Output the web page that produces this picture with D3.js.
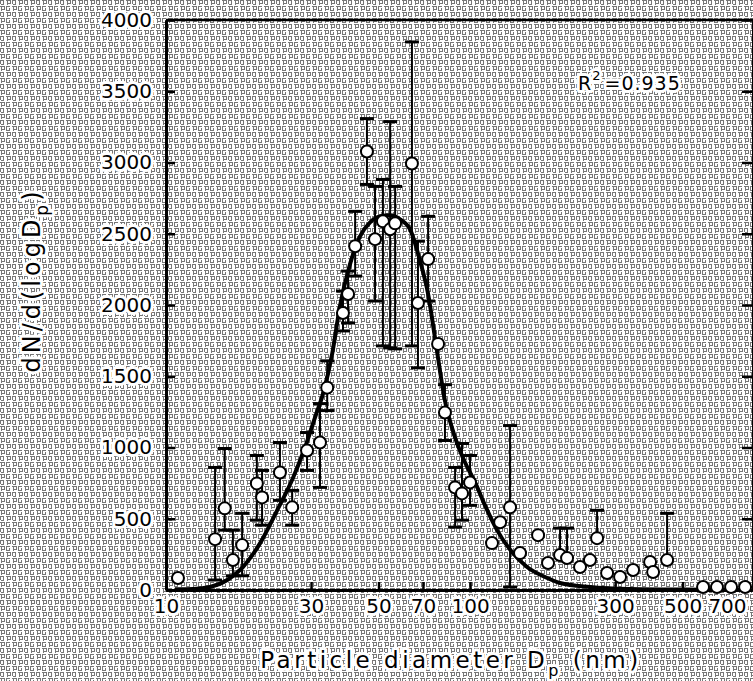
<!DOCTYPE html>
<html>
<head>
<meta charset="utf-8">
<script src="https://cdn.jsdelivr.net/npm/d3@7"></script>
<style>
  body { margin: 0; background: #fff; }
  text { font-family: "DejaVu Sans", sans-serif; fill: #000; }
  .halo { paint-order: stroke; stroke: #fff; stroke-width: 6px; stroke-linejoin: round; }
</style>
</head>
<body>
<svg id="chart" width="753" height="681"></svg>
<script>
//========================== Data ================================

// measured points: diameter (nm), dN/dlogDp, lower and upper end of error bar
const diam  = [10.95, 14.5, 15.6, 16.6, 17.8, 19.9, 20.7, 23.7, 26.0, 29.1, 32.1, 33.9, 38.2, 39.7, 41.9, 45.8, 48.7, 51.7, 54.6, 56.7, 64.4, 67.4, 72.8, 78.5, 82.7, 89.3, 94.1, 100, 118.1, 125.6, 135.4, 146, 167.4, 180.5, 197.7, 208.5, 230, 248, 261.7, 282.3, 311.5, 343.8, 391, 400, 444.8, 584, 649, 722, 803]
const dens  = [84, 357, 573, 210, 315, 748, 650, 825, 580, 979, 1035, 1420, 1944, 2077, 2413, 3077, 2462, 2587, 2531, 2573, 2993, 2014, 2322, 1727, 1245, 720, 678, 755, 329, 475, 580, 259, 385, 189, 245, 224, 161, 210, 364, 119, 91, 140, 196, 126, 210, 21, 21, 21, 21]
const errLo = [84, 70, 420, 100, 100, 490, 455, 629, 455, 839, 720, 1259, 1818, 1874, 2203, 2846, 2028, 1713, 1699, 1692, 1713, 1559, 2028, 1727, 1049, 441, 490, 594, 329, 475, 21, 259, 385, 189, 245, 224, 161, 210, 364, 119, 91, 140, 196, 126, 210, 21, 21, 21, 21]
const errHi = [84, 860, 993, 420, 538, 944, 839, 1035, 699, 1105, 1308, 1608, 2098, 2238, 2657, 3308, 2832, 2881, 3287, 2832, 3846, 2448, 2622, 1727, 1441, 860, 1028, 944, 329, 475, 1154, 259, 385, 189, 434, 434, 161, 210, 559, 119, 91, 140, 196, 126, 538, 21, 21, 21, 21]

// fitted curve
const fitD = [10.7, 12.3, 13.95, 15.9, 17.9, 20.4, 23.2, 26.2, 28.65, 30.9, 32.85, 35.2, 37.35, 40.3, 43.45, 46.9, 50.6, 54.55, 58.9, 63.5, 68.5, 72.8, 76.7, 82.7, 89.3, 96.3, 103.9, 112.0, 122.7, 137.4, 154.0, 176.5, 197.7, 248, 335.7, 571, 834]
const fitN = [5, 7, 21, 70, 161, 329, 559, 790, 1000, 1210, 1378, 1657, 1993, 2287, 2482, 2580, 2622, 2629, 2601, 2531, 2308, 2077, 1769, 1329, 1070, 895, 755, 594, 420, 266, 161, 91, 49, 21, 7, 2, 0]

const xTicks = [10, 30, 50, 70, 100, 300, 500, 700]
const yTicks = [0, 500, 1000, 1500, 2000, 2500, 3000, 3500, 4000]
const r2Text = '0.935'

//========================== Chart ================================

let svg = d3.select('#chart')

// scanned-paper texture (little glyph-like marks on a 12px tile)
let defs = svg.append('defs')
let pat = defs.append('pattern')
  .attr('id', 'scan').attr('width', 12).attr('height', 12)
  .attr('patternUnits', 'userSpaceOnUse')
pat.append('rect').attr('width', 12).attr('height', 12).attr('fill', '#fff')
;[[0, 0, 4, 1], [0, 1, 1, 3], [3, 1, 1, 4], [1, 4, 2, 1],
  [6, 0, 5, 1], [7, 1, 1, 4], [10, 1, 1, 3], [8, 3, 2, 1],
  [0, 6, 5, 1], [1, 7, 1, 4], [4, 7, 1, 3], [2, 9, 2, 1],
  [6, 6, 4, 1], [6, 7, 1, 4], [9, 8, 1, 3], [7, 10, 2, 1]].forEach(r => {
  pat.append('rect').attr('x', r[0]).attr('y', r[1]).attr('width', r[2]).attr('height', r[3]).attr('fill', '#777')
})
svg.append('rect').attr('width', 753).attr('height', 681).attr('fill', 'url(#scan)')

let x = d3.scaleLog().domain([10, 846]).range([166, 752])
let y = d3.scaleLinear().domain([0, 4000]).range([590, 20])

// axes
let yAxis = svg.append('g').attr('transform', 'translate(166,0)')
  .call(d3.axisLeft(y).tickValues(yTicks).tickSize(-9).tickSizeOuter(0).tickPadding(14).tickFormat(d3.format('d')))
let xAxis = svg.append('g').attr('transform', 'translate(0,590)')
  .call(d3.axisBottom(x).tickValues(xTicks).tickSize(-8).tickSizeOuter(0).tickPadding(9).tickFormat(d3.format('d')))
let rAxis = svg.append('g').attr('transform', 'translate(753,0)')
  .call(d3.axisRight(y).tickValues(yTicks).tickSize(-11).tickSizeOuter(0).tickFormat(''))

;[yAxis, xAxis, rAxis].forEach(a => {
  a.select('.domain').attr('stroke', '#000').attr('stroke-width', 3)
  a.selectAll('.tick line').attr('stroke', '#000').attr('stroke-width', 2.5)
  a.selectAll('.tick text').attr('font-size', 20).attr('font-family', '"DejaVu Sans", sans-serif').classed('halo', true)
})

// top frame
svg.append('line').attr('x1', 166).attr('x2', 753).attr('y1', 20).attr('y2', 20)
  .attr('stroke', '#000').attr('stroke-width', 2.5)

// fitted curve
let line = d3.line().x((d, i) => x(fitD[i])).y((d, i) => y(fitN[i])).curve(d3.curveMonotoneX)
svg.append('path').datum(fitD).attr('d', line)
  .attr('fill', 'none').attr('stroke', '#000').attr('stroke-width', 4)

// error bars
let pts = diam.map((d, i) => ({ d: d, v: dens[i], lo: errLo[i], hi: errHi[i] }))
let bars = svg.append('g').attr('stroke', '#000').attr('stroke-width', 2)
pts.filter(p => p.hi > p.v || p.lo < p.v).forEach(p => {
  bars.append('line').attr('x1', x(p.d)).attr('x2', x(p.d)).attr('y1', y(p.lo)).attr('y2', y(p.hi))
  if (p.hi > p.v) bars.append('line').attr('x1', x(p.d) - 7).attr('x2', x(p.d) + 7).attr('y1', y(p.hi)).attr('y2', y(p.hi)).attr('stroke-width', 3)
  if (p.lo < p.v) bars.append('line').attr('x1', x(p.d) - 7).attr('x2', x(p.d) + 7).attr('y1', y(p.lo)).attr('y2', y(p.lo)).attr('stroke-width', 3)
})

// markers
svg.append('g').selectAll('circle').data(pts).join('circle')
  .attr('cx', p => x(p.d)).attr('cy', p => y(p.v)).attr('r', 6)
  .attr('fill', '#fff').attr('stroke', '#000').attr('stroke-width', 2)

// R^2 annotation
let r2 = svg.append('text').attr('x', 578).attr('y', 90).attr('font-size', 19)
  .attr('letter-spacing', 1).classed('halo', true)
r2.append('tspan').text('R')
r2.append('tspan').attr('font-size', 13).attr('dy', -10).text('2')
r2.append('tspan').attr('dy', 10).attr('dx', 3).text('=' + r2Text)

// axis titles
let xt = svg.append('text').attr('x', 451).attr('y', 668).attr('text-anchor', 'middle')
  .attr('font-size', 23).attr('letter-spacing', 3.5).classed('halo', true)
xt.append('tspan').text('Particle diameter D')
xt.append('tspan').attr('font-size', 16).attr('dy', 8).text('p')
xt.append('tspan').attr('dy', -8).text(' (nm)')

let yt = svg.append('text').attr('transform', 'translate(40,280) rotate(-90)').attr('text-anchor', 'middle')
  .attr('font-size', 24).attr('letter-spacing', 4).classed('halo', true)
yt.append('tspan').text('dN/d(logD')
yt.append('tspan').attr('font-size', 17).attr('dy', 8).text('p')
yt.append('tspan').attr('dy', -8).text(')')
</script>
</body>
</html>
